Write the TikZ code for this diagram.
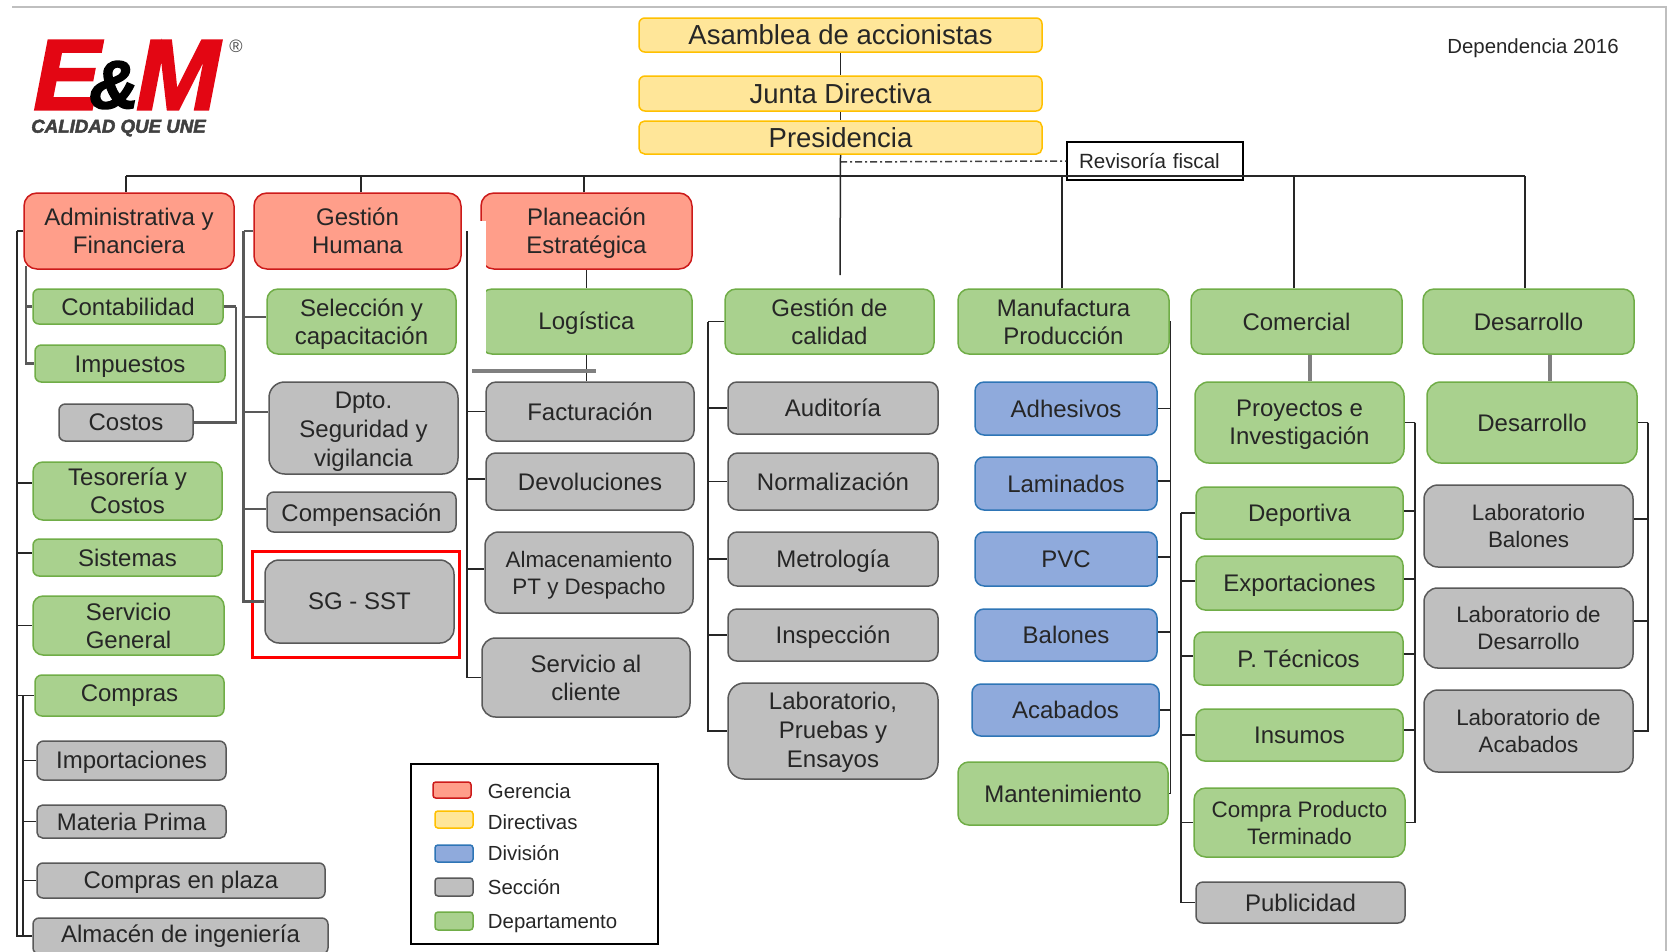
\documentclass[tikz,border=0pt]{standalone}
\usepackage{fontspec}
\setmainfont{Liberation Sans}
\newfontfamily\logofont[BoldItalicFeatures={FakeBold=2.5}]{Liberation Sans}
\usetikzlibrary{positioning}
\definecolor{redfill}{HTML}{FF9E8A}
\definecolor{redline}{HTML}{CC1A1A}
\definecolor{yellowfill}{HTML}{FFE699}
\definecolor{yellowline}{HTML}{FFC000}
\definecolor{bluefill}{HTML}{8FAADC}
\definecolor{blueline}{HTML}{2E75B6}
\definecolor{grayfill}{HTML}{BFBFBF}
\definecolor{grayline}{HTML}{595959}
\definecolor{greenfill}{HTML}{A9D18E}
\definecolor{greenline}{HTML}{70AD47}
\definecolor{logored}{HTML}{E30613}

\begin{document}
\begin{tikzpicture}[x=1pt,y=-1pt,
    main node/.style={draw,line width=1.5pt,inner sep=0pt,align=center,text=black!85,font=\fontsize{24}{28}\selectfont},
    boxsize/.style 2 args={minimum width=#1pt,minimum height=#2pt,rounded corners=#2*0.17pt},
    red node/.style={main node,fill=redfill,draw=redline},
    yellow node/.style={main node,fill=yellowfill,draw=yellowline,font=\fontsize{27.5}{30}\selectfont},
    blue node/.style={main node,fill=bluefill,draw=blueline},
    gray node/.style={main node,fill=grayfill,draw=grayline},
    green node/.style={main node,fill=greenfill,draw=greenline},
    small text/.style={font=\fontsize{22.4}{27}\selectfont},
    wide text/.style={font=\fontsize{24}{29}\selectfont},
    nudge/.style={execute at begin node={\rule{0pt}{#1pt}}},
    key text/.style={inner sep=0pt,text=black!85,font=\fontsize{20.4}{24}\selectfont},
    conn/.style={draw=black!85,line width=1.5pt},
    dark conn/.style={draw=black!65,line width=2.2pt},
    bar/.style={draw=black!50,line width=4pt},
    vh/.style={to path={|- (\tikztotarget)}}]
                    \useasboundingbox (0,0) rectangle (1672,951);

                    % logo
                    \node[inner sep=0pt,text=logored,font=\logofont\bfseries\itshape\fontsize{100}{100}\selectfont] (logoe) at (67,75) {E};
                    \node[inner sep=0pt,text=logored,font=\logofont\bfseries\itshape\fontsize{100}{100}\selectfont] (logom) at (178,75) {M};
                    \node[inner sep=0pt,text=black,font=\logofont\bfseries\itshape\fontsize{68}{68}\selectfont] (logoamp) at (114,85) {\&};
                    \node[inner sep=0pt,text=black!75,font=\logofont\bfseries\itshape\fontsize{18.7}{20}\selectfont] (logotag) at (118.5,128) {CALIDAD QUE UNE};
                    \node[inner sep=0pt,text=black!70,font=\fontsize{18}{18}\selectfont] (logoreg) at (236,46) {®};

                    \node[inner sep=0pt,text=black!85,font=\fontsize{20.4}{24}\selectfont] (dependencia) at (1533,48) {Dependencia 2016};

                    % top of the chart
                    \node[yellow node,boxsize={403}{34}] (asamblea) at (840.5,35) {Asamblea de accionistas};
                    \node[yellow node,boxsize={403}{35}] (junta) [below of = asamblea,node distance=58.5pt] {Junta Directiva};
                    \node[yellow node,boxsize={403}{33}] (presidencia) [below of = junta,node distance=44pt] {Presidencia};
                    \node[draw,line width=1.5pt,minimum width=176pt,minimum height=38pt,inner sep=0pt,text width=152pt,align=left,text=black!85,font=\fontsize{20.6}{24}\selectfont] (revisoria) at (1155,161) {Revisoría fiscal};

                    % first column
                    \node[red node,boxsize={210}{76}] (admin) at (129,231) {Administrativa y\\Financiera};
                    \node[green node,boxsize={190}{35},xshift=-1pt] (contabilidad) [below of = admin,node distance=75.5pt] {Contabilidad};
                    \node[green node,boxsize={190}{37},xshift=2pt,nudge=23] (impuestos) [below of = contabilidad,node distance=57pt] {Impuestos};
                    \node[gray node,boxsize={134}{37},xshift=-4pt] (costos) [below of = impuestos,node distance=59pt] {Costos};
                    \node[green node,boxsize={189}{58},xshift=1.5pt] (tesoreria) [below of = costos,node distance=68.5pt] {Tesorería y\\Costos};
                    \node[green node,boxsize={189}{37}] (sistemas) [below of = tesoreria,node distance=66.5pt] {Sistemas};
                    \node[green node,boxsize={191}{59},xshift=1pt] (general) [below of = sistemas,node distance=68pt] {Servicio\\General};
                    \node[green node,boxsize={189}{41},xshift=1pt] (compras) [below of = general,node distance=70pt] {Compras};
                    \node[gray node,boxsize={189}{39},xshift=2pt,nudge=21] (importaciones) [below of = compras,node distance=65pt] {Importaciones};
                    \node[gray node,boxsize={189}{33}] (materia) [below of = importaciones,node distance=61pt] {Materia Prima};
                    \node[gray node,boxsize={288}{35},xshift=49.5pt,nudge=21] (plaza) [below of = materia,node distance=59pt] {Compras en plaza};
                    \node[gray node,boxsize={295}{36},xshift=-0.5pt] (almacen) [below of = plaza,node distance=55.5pt] {Almacén de ingeniería};

                    % second column
                    \node[red node,boxsize={207}{76}] (humana) at (357.5,231) {Gestión\\Humana};
                    \node[green node,boxsize={189}{65},xshift=4pt] (seleccion) [below of = humana,node distance=90.5pt] {\rule{0pt}{23pt}Selección y\\capacitación};
                    \node[gray node,boxsize={189}{92},xshift=2pt,wide text] (dpto) [below of = seleccion,node distance=106.5pt] {\rule{0pt}{23pt}Dpto.\\Seguridad y\\vigilancia};
                    \node[gray node,boxsize={189}{40},xshift=-2pt,nudge=23] (compensacion) [below of = dpto,node distance=84pt] {Compensación};
                    \node[gray node,boxsize={189}{83},xshift=-2pt] (sgsst) [below of = compensacion,node distance=89.5pt] {SG - SST};
                    \node[draw=red,line width=3pt,minimum width=207pt,minimum height=106pt,inner sep=0pt] (marca) at (355.5,604) {};

                    % third column
                    \node[red node,boxsize={211}{76}] (planeacion) at (586.5,231) {\rule{0pt}{21pt}Planeación\\Estratégica};
                    \node[green node,boxsize={211}{65},nudge=21] (logistica) [below of = planeacion,node distance=90.5pt] {Logística};
                    \fill[white] (479,221) rectangle (486,356);
                    \node[gray node,boxsize={208}{59},xshift=3.5pt] (facturacion) [below of = logistica,node distance=90pt] {Facturación};
                    \node[gray node,boxsize={208}{57}] (devoluciones) [below of = facturacion,node distance=70pt] {Devoluciones};
                    \node[gray node,boxsize={208}{81},xshift=-1pt,small text] (almacenamiento) [below of = devoluciones,node distance=91pt] {\rule{0pt}{21pt}Almacenamiento\\PT y Despacho};
                    \node[gray node,boxsize={208}{79},xshift=-3pt] (cliente) [below of = almacenamiento,node distance=105pt] {Servicio al\\cliente};

                    % fourth column
                    \node[green node,boxsize={209}{65}] (calidad) at (829.5,321.5) {Gestión de\\calidad};
                    \node[gray node,boxsize={210}{52},xshift=3.5pt] (auditoria) [below of = calidad,node distance=86.5pt] {Auditoría};
                    \node[gray node,boxsize={210}{57}] (normalizacion) [below of = auditoria,node distance=73.5pt] {Normalización};
                    \node[gray node,boxsize={210}{54},nudge=21] (metrologia) [below of = normalizacion,node distance=77.5pt] {Metrología};
                    \node[gray node,boxsize={210}{52},nudge=21] (inspeccion) [below of = metrologia,node distance=76pt] {Inspección};
                    \node[gray node,boxsize={210}{96},wide text] (laboratorio) [below of = inspeccion,node distance=96pt] {\rule{0pt}{19pt}Laboratorio,\\Pruebas y\\Ensayos};

                    % fifth column
                    \node[green node,boxsize={211}{65}] (manufactura) at (1063.5,321.5) {Manufactura\\Producción};
                    \node[blue node,boxsize={182}{53},xshift=2.5pt] (adhesivos) [below of = manufactura,node distance=87pt] {Adhesivos};
                    \node[blue node,boxsize={182}{53}] (laminados) [below of = adhesivos,node distance=75pt] {Laminados};
                    \node[blue node,boxsize={182}{54}] (pvc) [below of = laminados,node distance=75.5pt] {PVC};
                    \node[blue node,boxsize={182}{52}] (balones) [below of = pvc,node distance=76pt] {Balones};
                    \node[blue node,boxsize={187}{52},xshift=-0.5pt] (acabados) [below of = balones,node distance=75pt] {Acabados};
                    \node[green node,boxsize={210}{63},xshift=-2.5pt] (mantenimiento) [below of = acabados,node distance=83.5pt] {Mantenimiento};

                    % sixth column
                    \node[green node,boxsize={211}{65}] (comercial) at (1296.5,321.5) {Comercial};
                    \node[green node,boxsize={209}{81},xshift=3pt] (proyectos) [below of = comercial,node distance=101pt] {\rule{0pt}{21pt}Proyectos e\\Investigación};
                    \node[green node,boxsize={207}{52},nudge=21] (deportiva) [below of = proyectos,node distance=90.5pt] {Deportiva};
                    \node[green node,boxsize={207}{54},nudge=21] (exportaciones) [below of = deportiva,node distance=70pt] {Exportaciones};
                    \node[green node,boxsize={209}{53},xshift=-1pt] (tecnicos) [below of = exportaciones,node distance=75.5pt] {P. Técnicos};
                    \node[green node,boxsize={207}{52},xshift=1pt] (insumos) [below of = tecnicos,node distance=76.5pt] {Insumos};
                    \node[green node,boxsize={211}{69},small text] (compra) [below of = insumos,node distance=87.5pt] {Compra Producto\\Terminado};
                    \node[gray node,boxsize={209}{41},xshift=1pt] (publicidad) [below of = compra,node distance=80pt] {Publicidad};

                    % seventh column
                    \node[green node,boxsize={211}{65}] (desarrollo) at (1528.5,321.5) {Desarrollo};
                    \node[green node,boxsize={210}{81},xshift=3.5pt] (desarrollodos) [below of = desarrollo,node distance=101pt] {Desarrollo};
                    \node[gray node,boxsize={209}{82},xshift=-3.5pt,small text] (labbalones) [below of = desarrollodos,node distance=103.5pt] {Laboratorio\\Balones};
                    \node[gray node,boxsize={209}{80},small text] (labdesarrollo) [below of = labbalones,node distance=102pt] {Laboratorio de\\Desarrollo};
                    \node[gray node,boxsize={209}{82},small text] (labacabados) [below of = labdesarrollo,node distance=103pt] {Laboratorio de\\Acabados};

                    % legend
                    \node[draw,line width=1.5pt,minimum width=247pt,minimum height=180pt,inner sep=0pt] (leyenda) at (534.5,854) {};
                    \node[red node,boxsize={38}{16}] (keyred) at (452,790) {};
                    \node[yellow node,boxsize={38}{17},xshift=2pt] (keyyellow) [below of = keyred,node distance=29.5pt] {};
                    \node[blue node,boxsize={38}{17}] (keyblue) [below of = keyyellow,node distance=34pt] {};
                    \node[gray node,boxsize={38}{18}] (keygray) [below of = keyblue,node distance=33.5pt] {};
                    \node[green node,boxsize={38}{18}] (keygreen) [below of = keygray,node distance=34pt] {};
                    \node[key text,right=16pt of keyred,yshift=-1pt] (txtred) {Gerencia};
                    \node[key text,right=14pt of keyyellow,yshift=-3pt] (txtyellow) {Directivas};
                    \node[key text,right=14pt of keyblue] (txtblue) {División};
                    \node[key text,right=14pt of keygray] (txtgray) {Sección};
                    \node[key text,right=14pt of keygreen,yshift=-3pt] (txtgreen) {Departamento};

                    % free ends and spines
                    \coordinate (busleft) at (126,176);
                    \coordinate (busright) at (1525,176);
                    \coordinate (calidadend) at (840,275);
                    \coordinate (dashstart) at (840,162);
                    \coordinate (spadmin) at (17,231);
                    \coordinate (spinner) at (26,266);
                    \coordinate (spcostos) at (236,306.5);
                    \coordinate (spcompras) at (23,695.5);
                    \coordinate (sphumana) at (243.5,231);
                    \coordinate (spplaneacion) at (467,231);
                    \coordinate (spcalidad) at (708,321.5);
                    \coordinate (spmanufactura) at (1170.5,321.5);
                    \coordinate (spproyectos) at (1415,422.5);
                    \coordinate (spcomercial) at (1181,513);
                    \coordinate (spdesarrollo) at (1648,422.5);
                    \coordinate (barleft) at (472,371);
                    \coordinate (barright) at (596,371);
                    \coordinate (margina) at (12,7);
                    \coordinate (marginb) at (1666,7);
                    \coordinate (marginc) at (1666,951);

                    \draw[black!25,line width=1.5pt] (margina) -- (marginb) -- (marginc);
                    \draw[black!75,line width=1.5pt,dash pattern=on 7pt off 3pt on 2pt off 3pt] (dashstart) -- (revisoria.west);

                    \path[conn]
                            (asamblea.south) edge [] (junta.north)
                            (junta.south) edge [] (presidencia.north)
                            (presidencia.south) edge [] (calidadend)
                            (busleft) edge [] (busright)
                            (busleft) edge [] (busleft |- admin.north)
                            ([xshift=3.5pt]humana.north) edge [] ([xshift=3.5pt]humana.north |- busleft)
                            ([xshift=-2.5pt]planeacion.north) edge [] ([xshift=-2.5pt]planeacion.north |- busleft)
                            ([xshift=-1.5pt]manufactura.north) edge [] ([xshift=-1.5pt]manufactura.north |- busleft)
                            ([xshift=-2.5pt]comercial.north) edge [] ([xshift=-2.5pt]comercial.north |- busleft)
                            (busright) edge [] (busright |- desarrollo.north)
                            (planeacion.south) edge [] (logistica.north)
                            (logistica.south) edge [] (logistica.south |- facturacion.north)

                            (admin.west) edge [] (spadmin)
                            (spadmin) edge [vh] ([yshift=8pt]tesoreria.west)
                            (spadmin) edge [vh] ([yshift=4.5pt]sistemas.west)
                            (spadmin) edge [vh] (general.west)
                            (spadmin) edge [vh] (compras.west)
                            (spadmin) edge [vh] (almacen.west)
                            (spcompras) edge [vh] (importaciones.west)
                            (spcompras) edge [vh] (materia.west)
                            (spcompras) edge [vh] (plaza.west)
                            (spcompras) edge [vh] (almacen.west)

                            (spplaneacion) edge [vh] (facturacion.west)
                            (spplaneacion) edge [vh] ([yshift=2.5pt]devoluciones.west)
                            (spplaneacion) edge [vh] ([yshift=3.5pt]almacenamiento.west)
                            (spplaneacion) edge [vh] (cliente.west)

                            (calidad.west) edge [] (spcalidad)
                            (spcalidad) edge [vh] (auditoria.west)
                            (spcalidad) edge [vh] (normalizacion.west)
                            (spcalidad) edge [vh] (metrologia.west)
                            (spcalidad) edge [vh] (inspeccion.west)
                            (spcalidad) edge [vh] (laboratorio.west)

                            (manufactura.east) edge [] (spmanufactura)
                            (spmanufactura) edge [vh] (adhesivos.east)
                            (spmanufactura) edge [vh] ([yshift=2.5pt]laminados.east)
                            (spmanufactura) edge [vh] ([yshift=2pt]pvc.east)
                            (spmanufactura) edge [vh] ([yshift=3pt]balones.east)
                            (spmanufactura) edge [vh] (acabados.east)
                            (spmanufactura) edge [vh] (mantenimiento.east)

                            (proyectos.east) edge [] (spproyectos)
                            (spproyectos) edge [vh] ([yshift=2pt]deportiva.east)
                            (spproyectos) edge [vh] ([yshift=4pt]exportaciones.east)
                            (spproyectos) edge [vh] ([yshift=4.5pt]tecnicos.east)
                            (spproyectos) edge [vh] ([yshift=5pt]insumos.east)
                            (spproyectos) edge [vh] (compra.east)

                            (deportiva.west) edge [] (spcomercial)
                            (spcomercial) edge [vh] ([yshift=2pt]exportaciones.west)
                            (spcomercial) edge [vh] ([yshift=2.5pt]tecnicos.west)
                            (spcomercial) edge [vh] (insumos.west)
                            (spcomercial) edge [vh] (compra.west)
                            (spcomercial) edge [vh] (publicidad.west)

                            (desarrollodos.east) edge [] (spdesarrollo)
                            (spdesarrollo) edge [vh] ([yshift=7pt]labbalones.east)
                            (spdesarrollo) edge [vh] ([yshift=7pt]labdesarrollo.east)
                            (spdesarrollo) edge [vh] (labacabados.east)
                        ;
                    \path[dark conn]
                            (spinner) edge [vh] (contabilidad.west)
                            (spinner) edge [vh] (impuestos.west)
                            (contabilidad.east) edge [] (spcostos)
                            (spcostos) edge [vh] (costos.east)

                            (humana.west) edge [] (sphumana)
                            (sphumana) edge [vh] ([yshift=4.5pt]seleccion.west)
                            (sphumana) edge [vh] ([yshift=16pt]dpto.west)
                            (sphumana) edge [vh] ([yshift=3pt]compensacion.west)
                            (sphumana) edge [vh] (sgsst.west)
                        ;
                    \path[bar]
                            (barleft) edge [] (barright)
                            ([xshift=13pt]comercial.south) edge [] ([xshift=13pt]comercial.south |- proyectos.north)
                            ([xshift=21.5pt]desarrollo.south) edge [] ([xshift=21.5pt]desarrollo.south |- desarrollodos.north)
                        ;
\end{tikzpicture}
\end{document}
